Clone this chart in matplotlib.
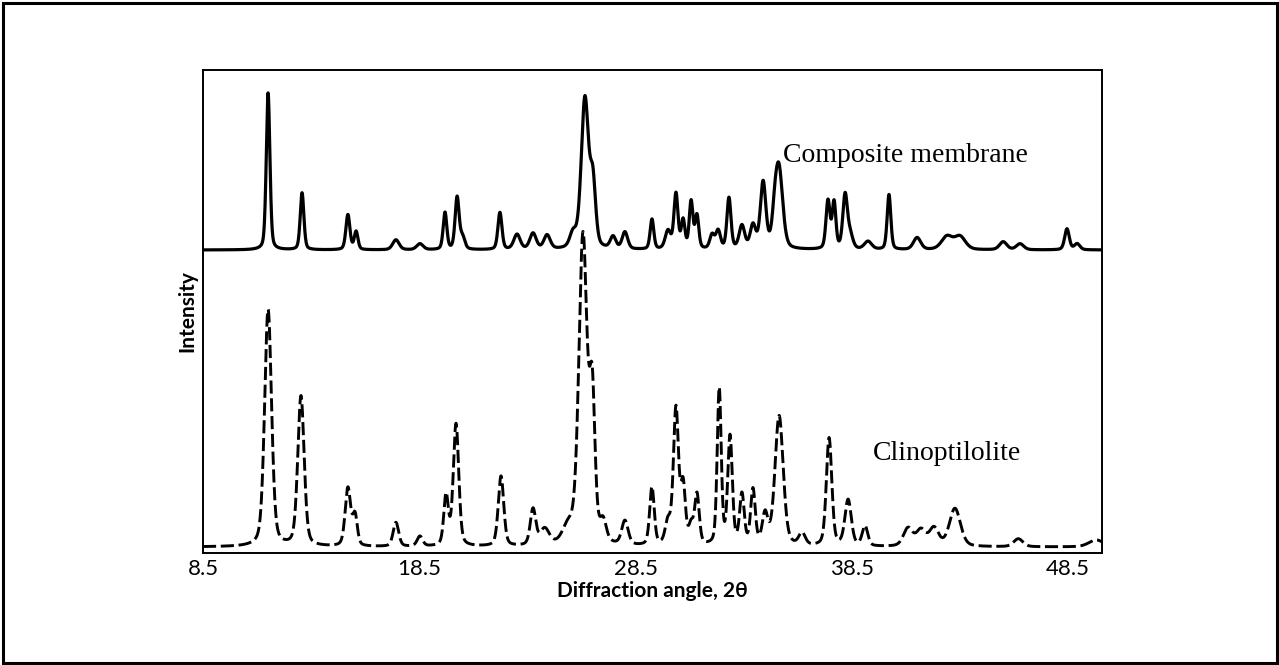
import numpy as np
import matplotlib
matplotlib.use("Agg")
import matplotlib.pyplot as plt
from matplotlib.patches import Rectangle

# ---------------- data ----------------
# Composite membrane (solid line): peak centre (2θ), peak height above baseline, FWHM (deg)
comp_pos = [11.51, 13.08, 15.20, 15.58, 17.42, 18.53, 19.69, 20.25, 20.50, 22.23,
            23.02, 23.76, 24.41, 25.61, 26.16, 26.53, 27.46, 28.01, 29.26, 30.00,
            30.37, 30.70, 31.07, 31.34, 32.04, 32.32, 32.82, 33.42, 33.93, 34.40,
            34.95, 35.14, 37.40, 37.68, 38.19, 38.42, 39.25, 40.22, 41.52, 42.90,
            43.50, 45.50, 46.28, 48.45, 48.92]
comp_height = [157, 57, 35, 18, 10, 6, 37, 52, 12, 37,
               15, 16, 14, 14, 150, 62, 12, 17, 30, 18,
               55, 28, 47, 33, 14, 18, 51, 23, 23, 66,
               26, 76, 48, 46, 53, 14, 8, 55, 12, 13,
               13, 8, 6, 21, 6]
comp_fwhm = [0.20, 0.20, 0.22, 0.20, 0.35, 0.35, 0.20, 0.22, 0.25, 0.22,
             0.35, 0.35, 0.35, 0.35, 0.40, 0.30, 0.30, 0.30, 0.20, 0.30,
             0.22, 0.20, 0.20, 0.20, 0.25, 0.25, 0.22, 0.30, 0.30, 0.30,
             0.30, 0.40, 0.22, 0.20, 0.25, 0.30, 0.40, 0.20, 0.40, 0.60,
             0.60, 0.40, 0.40, 0.25, 0.30]
comp_baseline = 303

# Clinoptilolite (dashed line)
clino_pos = [11.51, 13.03, 15.20, 15.53, 17.42, 18.53, 19.74, 20.20, 22.28, 23.76,
             24.30, 25.38, 26.07, 26.50, 27.00, 28.01, 29.26, 30.00, 30.37, 30.70,
             31.07, 31.34, 32.37, 32.87, 33.42, 33.93, 34.49, 35.14, 36.20, 37.45,
             38.33, 39.11, 41.10, 41.70, 42.30, 43.27, 46.20, 49.80]
clino_height = [237, 150, 58, 30, 24, 10, 50, 122, 70, 36,
                16, 16, 308, 140, 20, 24, 58, 22, 136, 58,
                18, 50, 156, 108, 50, 55, 30, 130, 12, 108,
                46, 20, 18, 16, 18, 38, 8, 7]
clino_fwhm = [0.38, 0.35, 0.30, 0.25, 0.30, 0.30, 0.25, 0.30, 0.30, 0.30,
              0.50, 0.60, 0.45, 0.30, 0.35, 0.35, 0.25, 0.30, 0.28, 0.25,
              0.25, 0.25, 0.22, 0.25, 0.25, 0.25, 0.30, 0.45, 0.35, 0.30,
              0.35, 0.30, 0.50, 0.50, 0.50, 0.60, 0.50, 0.80]
clino_baseline = 6

x_ticks = [8.5, 18.5, 28.5, 38.5, 48.5]
x_tick_labels = ["8.5", "18.5", "28.5", "38.5", "48.5"]
x_min, x_max = 8.5, 50.07

label_comp = "Composite membrane"
label_clino = "Clinoptilolite"


def profile(x, pos, height, fwhm, base, eta=0.35):
    y = np.full_like(x, float(base))
    for c, h, w in zip(pos, height, fwhm):
        d = (x - c) / w
        g = np.exp(-4 * np.log(2) * d ** 2)
        lo = 1.0 / (1.0 + 4 * d ** 2)
        y += h * (eta * lo + (1 - eta) * g)
    return y


x = np.arange(x_min, x_max + 1e-9, 0.01)
y_comp = profile(x, comp_pos, comp_height, comp_fwhm, comp_baseline)
y_clino = profile(x, clino_pos, clino_height, clino_fwhm, clino_baseline)

# ---------------- figure ----------------
fig = plt.figure(figsize=(12.79, 6.65), dpi=100)
ax = fig.add_axes([203 / 1279, 1 - 553 / 665, 899 / 1279, 483 / 665])

ax.plot(x, y_comp, color="black", lw=2.3, solid_joinstyle="round")
ax.plot(x, y_clino, color="black", lw=2.1, dashes=(4.5, 1.6))

ax.set_xlim(x_min, x_max)
ax.set_ylim(0, 483)
ax.set_xticks(x_ticks)
ax.set_xticklabels(x_tick_labels, fontfamily=["Lato", "DejaVu Sans"], fontsize=16)
ax.set_yticks([])
ax.tick_params(axis="x", length=0, pad=4)
for s in ax.spines.values():
    s.set_linewidth(1.4)
    s.set_color("black")

ax.set_xlabel("Diffraction angle, 2θ", fontfamily=["Lato", "DejaVu Sans"],
              fontweight="bold", fontsize=15, labelpad=2)
ax.set_ylabel("Intensity", fontfamily=["Lato", "DejaVu Sans"],
              fontweight="bold", fontsize=15, labelpad=4)

ax.text(35.32, 391, label_comp, fontfamily="Liberation Serif", fontsize=20,
        ha="left", va="baseline")
ax.text(39.48, 93, label_clino, fontfamily="Liberation Serif", fontsize=20,
        ha="left", va="baseline")

fig.patches.append(Rectangle((2.5 / 1279, 2.5 / 665), 1 - 5 / 1279, 1 - 5 / 665,
                             transform=fig.transFigure, fill=False,
                             edgecolor="black", lw=2.2))

fig.savefig("out.png", dpi=100)
